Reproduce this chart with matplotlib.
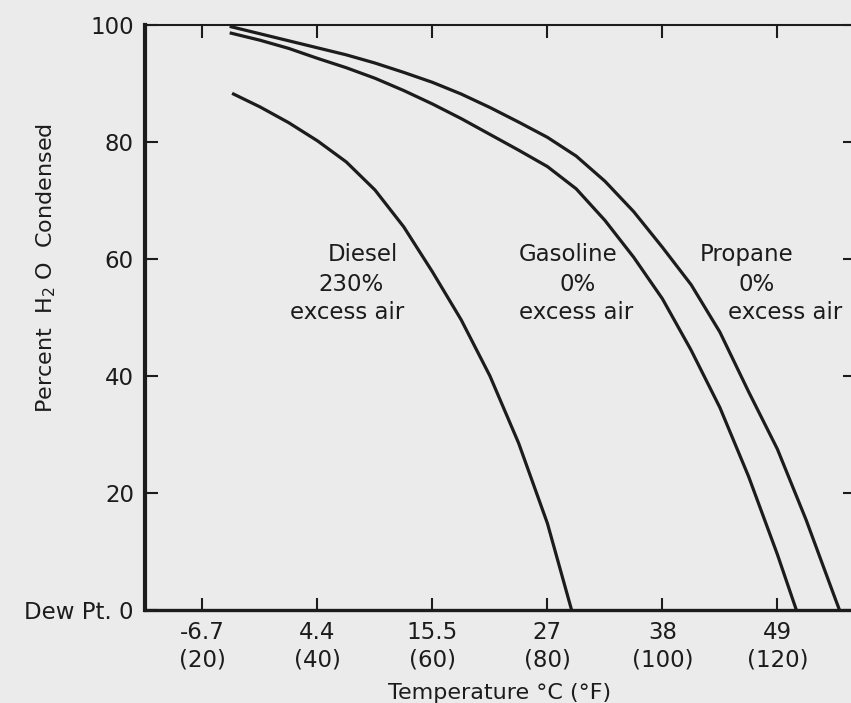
import matplotlib
matplotlib.use("Agg")
from matplotlib import pyplot as plt

# temperature in degrees F, percent of H2O condensed
diesel_f = [25.4, 30, 35, 40, 45, 50, 55, 60, 65, 70, 75, 80, 84.2]
diesel_pct = [88.2, 86.0, 83.3, 80.2, 76.6, 71.8, 65.5, 57.8, 49.6, 40.0, 28.5, 14.8, 0]

gasoline_f = [25, 30, 35, 40, 45, 50, 55, 60, 65, 70, 75, 80, 85, 90, 95, 100, 105, 110, 115, 120, 123.3]
gasoline_pct = [98.6, 97.4, 96.0, 94.3, 92.7, 90.9, 88.8, 86.5, 84.0, 81.3, 78.6, 75.8, 72.0, 66.6,
                60.3, 53.2, 44.4, 34.6, 22.8, 9.5, 0]

propane_f = [25, 30, 35, 40, 45, 50, 55, 60, 65, 70, 75, 80, 85, 90, 95, 100, 105, 110, 115, 120, 125, 130, 130.8]
propane_pct = [99.7, 98.5, 97.3, 96.1, 94.9, 93.5, 91.9, 90.2, 88.2, 85.9, 83.4, 80.8, 77.6, 73.3,
               68.1, 62.0, 55.6, 47.5, 37.3, 27.5, 15.4, 2.1, 0]

x_ticks_f = [20, 40, 60, 80, 100, 120]
x_ticks_c = ["-6.7", "4.4", "15.5", "27", "38", "49"]
y_ticks = [0, 20, 40, 60, 80, 100]
y_labels = ["Dew Pt. 0", "20", "40", "60", "80", "100"]

bg = "#ebebeb"
ink = "#1c1c1c"
plt.rcParams["font.family"] = ["DejaVu Sans"]
plt.rcParams["mathtext.default"] = "regular"

fig = plt.figure(figsize=(8.51, 7.03), dpi=100, facecolor=bg)
ax = fig.add_axes([145 / 851, 93 / 703, 710 / 851, 585 / 703], facecolor=bg)

for xs, ys in [(diesel_f, diesel_pct), (gasoline_f, gasoline_pct), (propane_f, propane_pct)]:
    ax.plot(xs, ys, color=ink, lw=2.3, solid_joinstyle="round")

ax.set_xlim(10, 133.5)
ax.set_ylim(0, 100)

ax.set_xticks(x_ticks_f)
ax.set_xticklabels(["%s\n(%d)" % (c, f) for c, f in zip(x_ticks_c, x_ticks_f)])
ax.set_yticks(y_ticks)
ax.set_yticklabels(y_labels)
ax.tick_params(axis="both", direction="in", length=9, width=1.5, color=ink,
               labelsize=16.5, labelcolor=ink, top=True, right=True)
ax.tick_params(axis="x", pad=8)
ax.tick_params(axis="y", pad=8)
for lbl in ax.get_xticklabels():
    lbl.set_linespacing(1.25)

ax.spines["left"].set_linewidth(3.0)
ax.spines["bottom"].set_linewidth(2.4)
ax.spines["top"].set_linewidth(1.5)
ax.spines["right"].set_linewidth(1.5)
for s in ax.spines.values():
    s.set_color(ink)

ax.set_xlabel("Temperature °C (°F)", fontsize=16, color=ink, labelpad=8)
ax.set_ylabel("Percent  H$_2$ O  Condensed", fontsize=16, color=ink)
ax.yaxis.set_label_coords(-0.122, 0.585)

txt = dict(fontsize=16.5, color=ink, ha="center", va="center")
# curve labels, placed in data coords
ax.text(47.9, 60.7, "Diesel", **txt)
ax.text(45.8, 55.7, "230%", **txt)
ax.text(45.2, 50.9, "excess air", **txt)
ax.text(83.6, 60.7, "Gasoline", **txt)
ax.text(85.3, 55.7, "0%", **txt)
ax.text(85.0, 50.9, "excess air", **txt)
ax.text(114.7, 60.7, "Propane", **txt)
ax.text(116.4, 55.7, "0%", **txt)
ax.text(121.3, 50.9, "excess air", **txt)

fig.savefig("out.png", dpi=100, facecolor=bg)
